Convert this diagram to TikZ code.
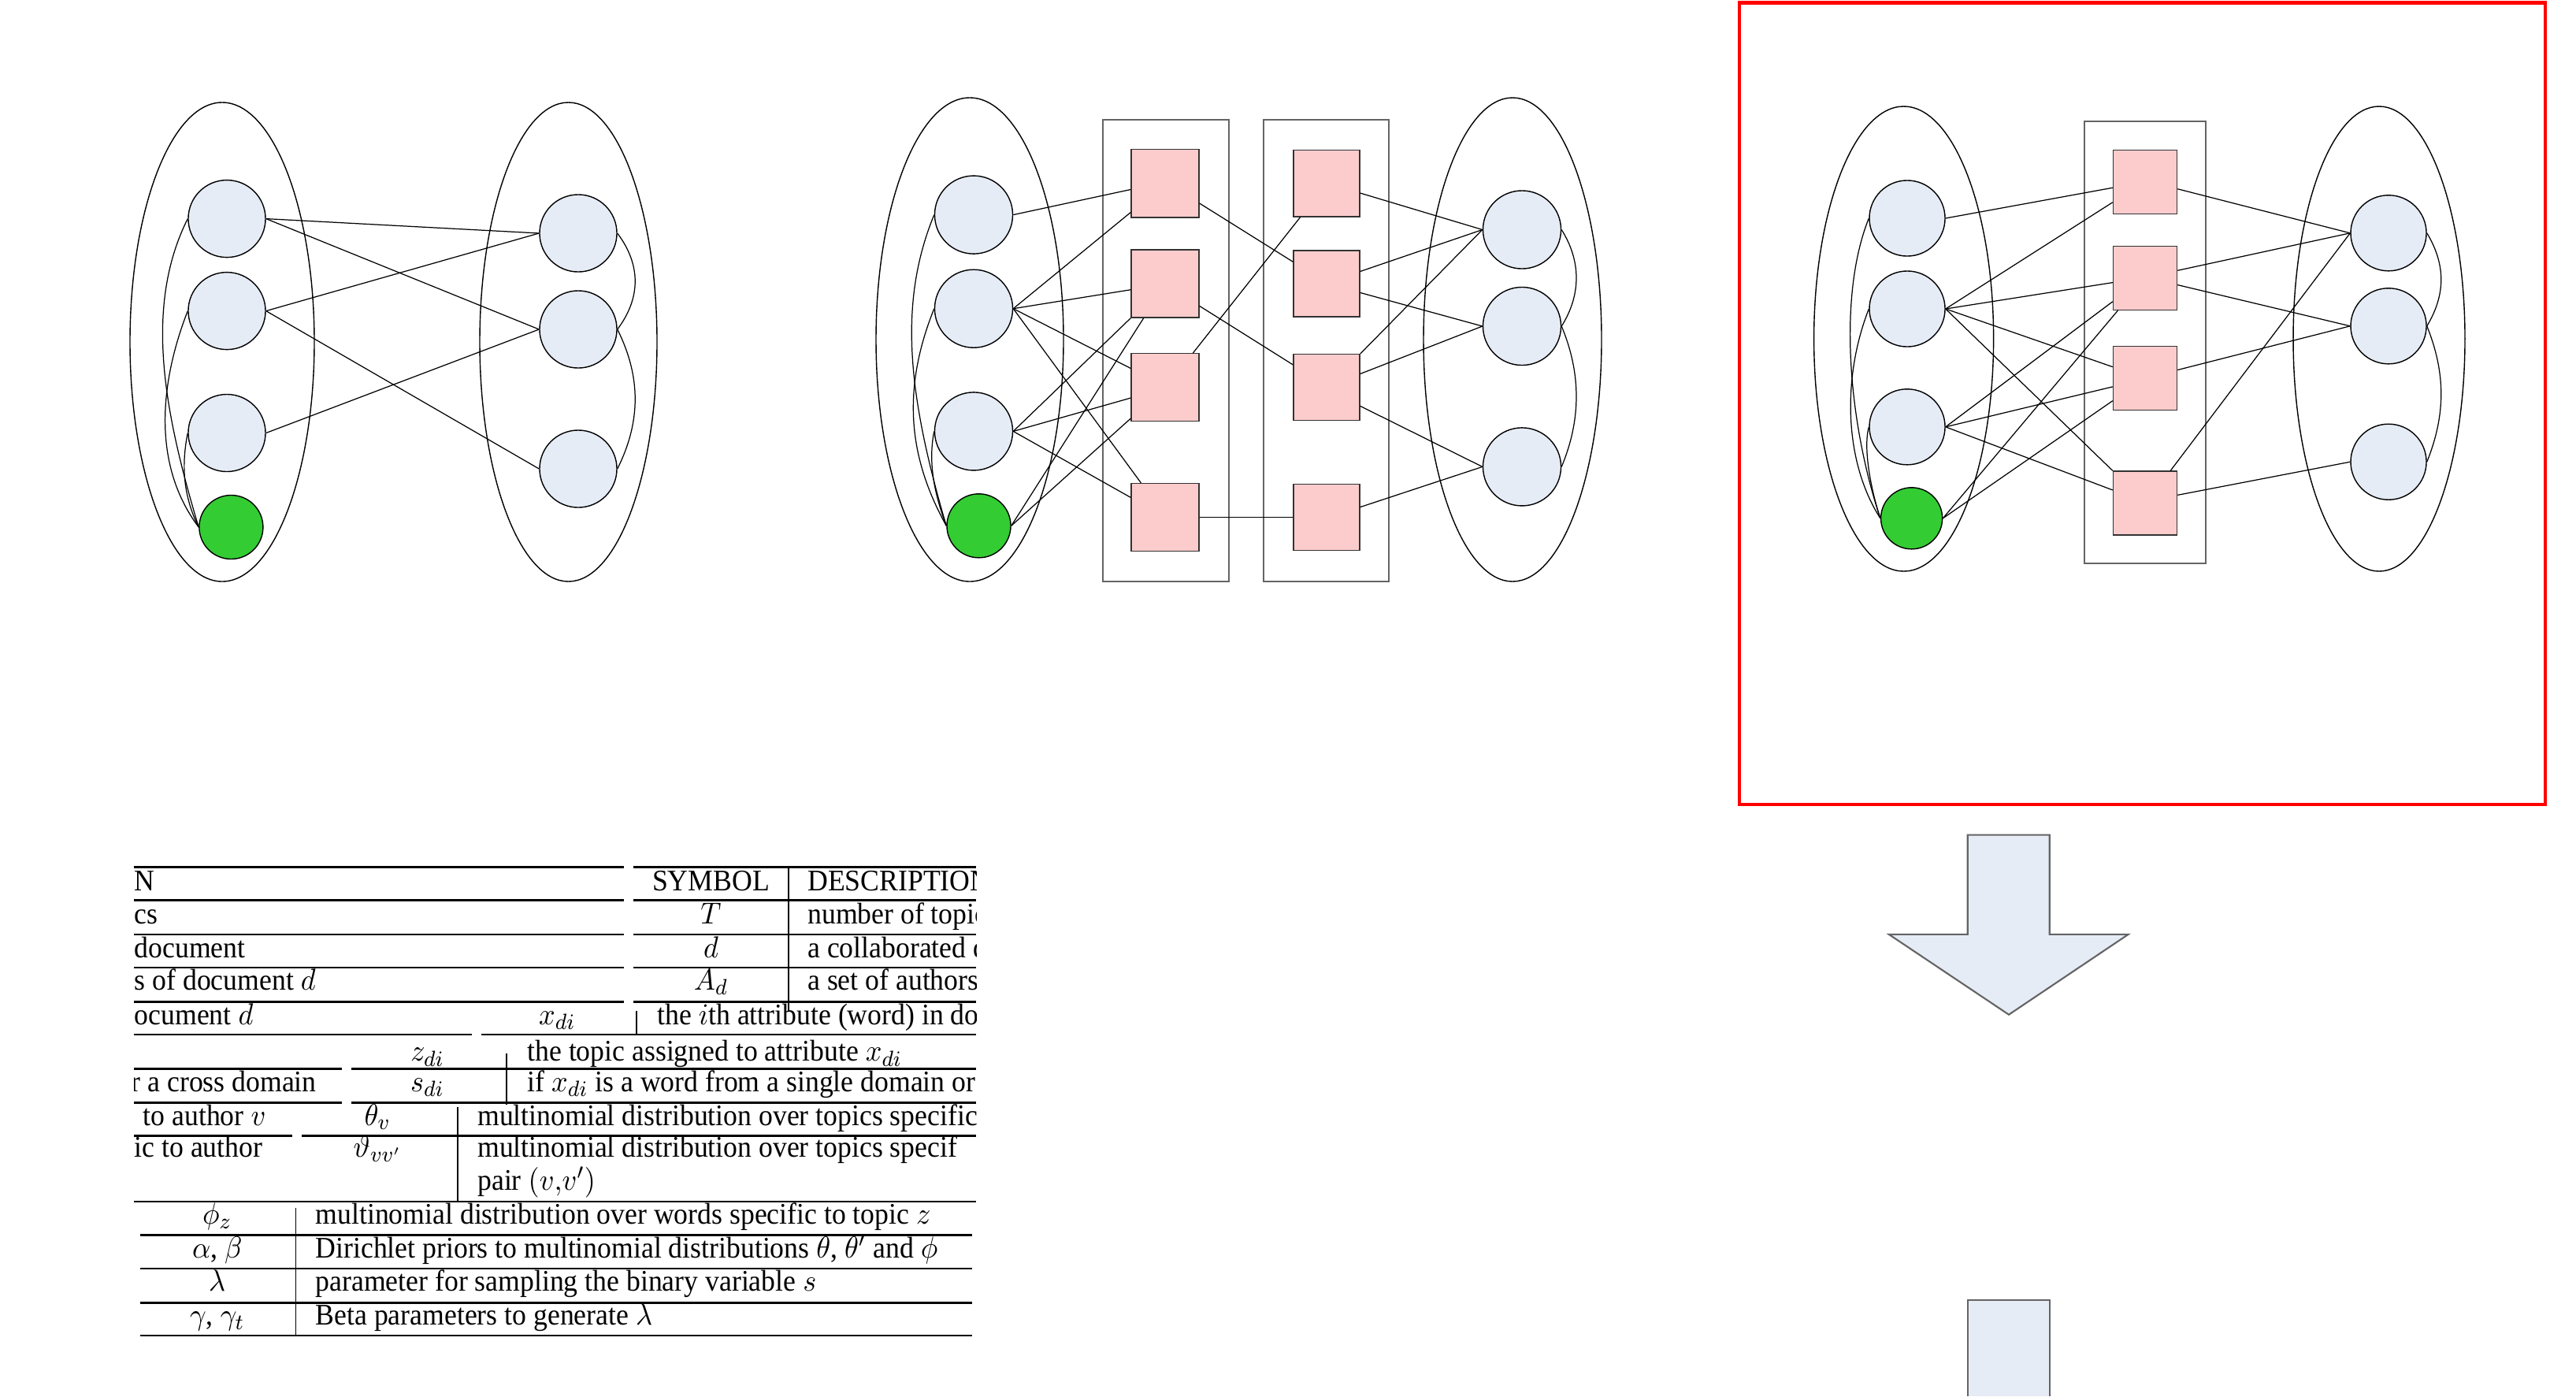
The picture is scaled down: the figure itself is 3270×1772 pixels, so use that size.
\documentclass[tikz,border=0pt]{standalone}
\usepackage{fontspec}
\setmainfont{Liberation Serif}
\usepackage{graphicx}
\usepackage{tikz}
\definecolor{nodeblue}{RGB}{230,236,246}
\definecolor{topicpink}{RGB}{252,204,204}
\definecolor{seedgreen}{RGB}{51,204,51}
\definecolor{plategray}{RGB}{100,100,100}
\newcommand{\tb}[1]{\scalebox{0.94}[1]{#1}}

\begin{document}
\begin{tikzpicture}[x=0.01cm, y=-0.01cm,
	vtx/.style={circle, draw, fill=nodeblue, inner sep=0pt, minimum size=#1}, vtx/.default=0.98cm,
	seed/.style={circle, draw, fill=seedgreen, inner sep=0pt, minimum size=#1}, seed/.default=0.81cm,
	tpc/.style={rectangle, draw=black!80, fill=topicpink, inner sep=0pt, minimum width=#1, minimum height=#1}, tpc/.default=0.85cm,
	plate/.style={draw=plategray, line width=0.6pt},
	lnk/.style={line width=0.35pt},
	cell/.style={anchor=base west, inner sep=0pt, font=\fontsize{10.8}{13}\selectfont},
	sym/.style={anchor=base, inner sep=0pt, font=\fontsize{10.8}{13}\selectfont},
	rulel/.style={line width=0.8pt},
	vrule/.style={line width=0.5pt}]
	\useasboundingbox (0,0) rectangle (3270,1772);
	\fill[white] (0,0) rectangle (3270,1772);

	\draw (282,434) ellipse (117 and 304);
	\draw (721.5,434) ellipse (112.5 and 304);
	\node[vtx] (c1) at (288,277.6) {};
	\node[vtx] (c2) at (288,394.6) {};
	\node[vtx] (c3) at (288,549.5) {};
	\node[seed] (g1) at (293.4,669) {};
	\node[vtx] (r1) at (734,296) {};
	\node[vtx] (r2) at (734,418) {};
	\node[vtx] (r3) at (734,595) {};
	\foreach \a/\b in {c1/r1, c1/r2, c2/r1, c2/r3, c3/r2}
		\draw[lnk] (\a.east) -- (\b.west);
	\draw[lnk] (c1.west) .. controls +(-55,110) and +(-45,-150) .. (g1.west);
	\draw[lnk] (c2.west) .. controls +(-35,90) and +(-60,-80) .. (g1.west);
	\draw[lnk] (c3.west) .. controls +(-8,40) and +(-20,-40) .. (g1.west);
	\draw[lnk] (r1.east) .. controls +(30,40) and +(30,-40) .. (r2.east);
	\draw[lnk] (r2.east) .. controls +(30,60) and +(30,-60) .. (r3.east);

	\draw (1231,431) ellipse (119 and 307);
	\draw (1920,431) ellipse (113 and 307);
	\draw[plate] (1400,151.8) rectangle (1560,737.6);
	\draw[plate] (1603.75,151.8) rectangle (1763,737.6);
	\node[vtx=0.99cm] (a1) at (1236,272.6) {};
	\node[vtx=0.99cm] (a2) at (1236,391.7) {};
	\node[vtx=0.99cm] (a3) at (1236,547.4) {};
	\node[seed] (g2) at (1242.5,667.3) {};
	\node[tpc=0.86cm] (p1) at (1479,232.8) {};
	\node[tpc=0.86cm] (p2) at (1479,360) {};
	\node[tpc=0.86cm] (p3) at (1479,491.7) {};
	\node[tpc=0.86cm] (p4) at (1479,656.6) {};
	\node[tpc=0.84cm] (q1) at (1684,232.8) {};
	\node[tpc=0.84cm] (q2) at (1684,360) {};
	\node[tpc=0.84cm] (q3) at (1684,491.7) {};
	\node[tpc=0.84cm] (q4) at (1684,656.6) {};
	\node[vtx=0.99cm] (b1) at (1932,291.5) {};
	\node[vtx=0.99cm] (b2) at (1932,414) {};
	\node[vtx=0.99cm] (b3) at (1932,592.4) {};
	\foreach \a/\b in {a1.east/p1.190, a2.east/p1.220, a2.east/p2.190, a2.east/p3.151, a2.east/p4.125,
		a3.east/p2.south west, a3.east/p3.197, a3.east/p4.150, g2.east/p2.238, g2.east/p3.222,
		p1.330/q2.147, p2.327/q3.146, p3.51/q1.232, p4.east/q4.west,
		q1.344/b1.west, q2.20/b1.west, q2.345/b2.west, q3.north east/b1.west, q3.22/b2.west,
		q3.331/b3.west, q4.17/b3.west}
		\draw[lnk] (\a) -- (\b);
	\draw[lnk] (a1.west) .. controls +(-45,110) and +(-50,-170) .. (g2.west);
	\draw[lnk] (a2.west) .. controls +(-40,100) and +(-50,-90) .. (g2.west);
	\draw[lnk] (a3.west) .. controls +(-8,40) and +(-15,-40) .. (g2.west);
	\draw[lnk] (b1.east) .. controls +(25,40) and +(25,-40) .. (b2.east);
	\draw[lnk] (b2.east) .. controls +(25,60) and +(25,-60) .. (b3.east);

	\draw[red, line width=1.3pt] (2208,3.3) rectangle (3231,1021);
	\draw (2416.6,430) ellipse (114 and 295);
	\draw (3020,430) ellipse (109 and 295);
	\draw[plate] (2645.7,153.8) rectangle (2800,714.9);
	\node[vtx=0.96cm] (d1) at (2421,277) {};
	\node[vtx=0.96cm] (d2) at (2421,392) {};
	\node[vtx=0.96cm] (d3) at (2421,541.8) {};
	\node[seed=0.78cm] (g3) at (2426.6,657.8) {};
	\node[tpc=0.81cm] (s1) at (2723,231) {};
	\node[tpc=0.81cm] (s2) at (2723,352.8) {};
	\node[tpc=0.81cm] (s3) at (2723,479.8) {};
	\node[tpc=0.81cm] (s4) at (2723,638.6) {};
	\node[vtx=0.96cm] (e1) at (3032,295.8) {};
	\node[vtx=0.96cm] (e2) at (3032,413.8) {};
	\node[vtx=0.96cm] (e3) at (3032,586.2) {};
	\foreach \a/\b in {d1.east/s1.190, d2.east/s1.212, d2.east/s2.188, d2.east/s3.161, d2.east/s4.north west,
		d3.east/s2.216, d3.east/s3.195, d3.east/s4.158, g3.east/s2.230, g3.east/s3.215,
		s1.348/e1.west, s2.13/e1.west, s2.348/e2.west, s3.14/e2.west, s4.52/e1.west, s4.14/e3.west}
		\draw[lnk] (\a) -- (\b);
	\draw[lnk] (d1.west) .. controls +(-40,100) and +(-40,-120) .. (g3.west);
	\draw[lnk] (d2.west) .. controls +(-35,90) and +(-45,-70) .. (g3.west);
	\draw[lnk] (d3.west) .. controls +(-8,30) and +(-10,-30) .. (g3.west);
	\draw[lnk] (e1.east) .. controls +(24,40) and +(24,-40) .. (e2.east);
	\draw[lnk] (e2.east) .. controls +(24,60) and +(24,-60) .. (e3.east);

	\draw[plategray, fill=nodeblue, line width=0.6pt] (2497.7,1059.6) -- (2601.7,1059.6) -- (2601.7,1185.8) -- (2701.7,1185.8)
		-- (2550,1287.7) -- (2397.7,1185.8) -- (2497.7,1185.8) -- cycle;
	\fill[nodeblue] (2497.7,1649.8) rectangle (2601.7,1772);
	\draw[plategray, line width=0.6pt] (2497.7,1772) -- (2497.7,1649.8) -- (2601.7,1649.8) -- (2601.7,1772);

	\begin{scope}
		\clip (170,1085) rectangle (1239,1772);
		\foreach \yy in {1100.7,1142.7,1186,1228,1271.7} {
			\draw[rulel] (170,\yy) -- (791.6,\yy);
			\draw[rulel] (804,\yy) -- (1239,\yy);
		}
		\draw[vrule] (1000.7,1100.7) -- (1000.7,1283);
		\draw[vrule] (807.7,1283) -- (807.7,1313);
		\draw[rulel] (170,1313) -- (598.6,1313);
		\draw[rulel] (611,1313) -- (1239,1313);
		\draw[vrule] (642.8,1336.7) -- (642.8,1401.7);
		\foreach \yy in {1356.7,1399.3} {
			\draw[rulel] (170,\yy) -- (433.7,\yy);
			\draw[rulel] (446.3,\yy) -- (1239,\yy);
		}
		\draw[vrule] (581,1405) -- (581,1525);
		\draw[rulel] (170,1441.7) -- (370.5,1441.7);
		\draw[rulel] (383,1441.7) -- (1239,1441.7);
		\draw[rulel] (170,1525) -- (1239,1525);
		\draw[vrule] (375.4,1533) -- (375.4,1695);
		\foreach \yy in {1567.7,1610,1653.3,1695}
			\draw[rulel] (177.5,\yy) -- (1233.7,\yy);

		\node[cell] (l1) at (170,1130) {\tb{N}};
		\node[sym] (h1) at (902.5,1130) {\tb{SYMBOL}};
		\node[cell] (h2) at (1024.6,1130) {\tb{DESCRIPTION}};
		\node[cell] (l2) at (170,1172) {\tb{cs}};
		\node[sym] (y1) at (902.5,1172) {\tb{$T$}};
		\node[cell] (t1) at (1024.6,1172) {\tb{number of topic}};
		\node[cell] (l3) at (170,1215) {\tb{document}};
		\node[sym] (y2) at (902.5,1215) {\tb{$d$}};
		\node[cell] (t2) at (1024.6,1215) {\tb{a collaborated d}};
		\node[cell] (l4) at (170,1256.7) {\tb{s of document $d$}};
		\node[sym] (y3) at (902.5,1256.7) {\tb{$A_d$}};
		\node[cell] (t3) at (1024.6,1256.7) {\tb{a set of authors}};
		\node[cell] (l5) at (170,1300) {\tb{ocument $d$}};
		\node[sym] (y4) at (707.4,1300) {\tb{$x_{di}$}};
		\node[cell] (t4) at (833.7,1300) {\tb{the $i$th attribute (word) in do}};
		\node[sym] (y5) at (542.5,1346.7) {\tb{$z_{di}$}};
		\node[cell] (t5) at (668.8,1346.7) {\tb{the topic assigned to attribute $x_{di}$}};
		\node[cell] (l6) at (166,1385) {\tb{r a cross domain}};
		\node[sym] (y6) at (542.5,1385) {\tb{$s_{di}$}};
		\node[cell] (t6) at (668.8,1385) {\tb{if $x_{di}$ is a word from a single domain or}};
		\node[cell] (l7) at (181,1428) {\tb{to author $v$}};
		\node[sym] (y7) at (479.3,1428) {\tb{$\theta_v$}};
		\node[cell] (t7) at (605.6,1428) {\tb{multinomial distribution over topics specific}};
		\node[cell] (l8) at (170,1468.3) {\tb{ic to author}};
		\node[sym] (y8) at (479.3,1468.3) {\tb{$\vartheta_{vv'}$}};
		\node[cell] (t8) at (605.6,1468.3) {\tb{multinomial distribution over topics specif}};
		\node[cell] (t9) at (605.6,1510) {\tb{pair $(v{,}v')$}};
		\node[sym] (y9) at (275.8,1553.3) {\tb{$\phi_z$}};
		\node[cell] (t10) at (400,1553.3) {\tb{multinomial distribution over words specific to topic $z$}};
		\node[sym] (y10) at (275.8,1596.7) {\tb{$\alpha$, $\beta$}};
		\node[cell] (t11) at (400,1596.7) {\tb{Dirichlet priors to multinomial distributions $\theta$, $\theta'$ and $\phi$}};
		\node[sym] (y11) at (275.8,1638) {\tb{$\lambda$}};
		\node[cell] (t12) at (400,1638) {\tb{parameter for sampling the binary variable $s$}};
		\node[sym] (y12) at (275.8,1681.7) {\tb{$\gamma$, $\gamma_t$}};
		\node[cell] (t13) at (400,1681.7) {\tb{Beta parameters to generate $\lambda$}};
	\end{scope}
\end{tikzpicture}
\end{document}
